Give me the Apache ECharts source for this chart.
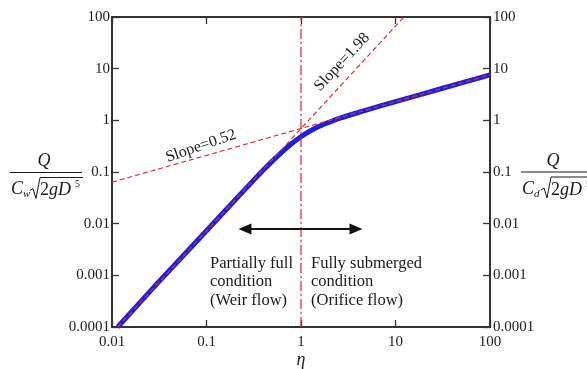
<!DOCTYPE html>
<html>
<head>
<meta charset="utf-8">
<script src="https://cdn.jsdelivr.net/npm/echarts@6/dist/echarts.min.js"></script>
<style>
html,body{margin:0;padding:0;background:#fff;}
#chart{width:587px;height:369px;}
</style>
</head>
<body>
<div id="chart"></div>
<script>
// ---- data ----
const etaTickLabels = ['0.01', '0.1', '1', '10', '100'];
const qTickLabels = ['0.0001', '0.001', '0.01', '0.1', '1', '10', '100'];

const curveEta = [0.0115, 0.03, 0.1, 0.3, 0.4, 0.5, 0.6, 0.7, 0.8, 0.9, 1.0, 1.1, 1.25, 1.5, 1.8, 2.2, 2.6, 3, 5, 10, 20, 50, 100];
const curveQ   = [0.0001, 0.00069, 0.0073, 0.063, 0.109, 0.164, 0.225, 0.290, 0.356, 0.420, 0.482, 0.540, 0.621, 0.740, 0.859, 0.99, 1.10, 1.20, 1.60, 2.30, 3.30, 5.3, 7.6];

const slope052Eta = [0.01, 100];
const slope052Q   = [0.0635, 7.6];
const slope198Eta = [0.0115, 12.3];
const slope198Q   = [0.0001, 100];

const dividerEta = [1, 1];
const dividerQ   = [0.0001, 100];

const arrowEta = [0.255, 3.82];
const arrowQ   = [0.0079, 0.0079];

const annotations = {
  slopeLow: 'Slope=0.52',
  slopeHigh: 'Slope=1.98',
  left: ['Partially full', 'condition', '(Weir flow)'],
  right: ['Fully submerged', 'condition', '(Orifice flow)'],
  xName: 'η'
};

const zip = (a, b) => a.map((v, i) => [v, b[i]]);

const serif = '"Liberation Serif", "DejaVu Serif", serif';
const axisColor = '#333';
const fmt = (labels, minExp) => v => {
  const i = Math.round(Math.log10(v)) - minExp;
  return labels[i] !== undefined ? labels[i] : '';
};

const chart = echarts.init(document.getElementById('chart'), null, {renderer: 'canvas'});

const axisCommon = {
  type: 'log',
  logBase: 10,
  axisLine: {show: true, lineStyle: {color: axisColor, width: 2}},
  axisTick: {show: true, inside: true, length: 7, lineStyle: {color: axisColor, width: 1.3}},
  minorTick: {show: false},
  splitLine: {show: false},
};

const labelStyle = {fontFamily: serif, fontSize: 15, color: '#222'};

const option = {
  animation: false,
  backgroundColor: '#fff',
  grid: {left: 112, right: 97, top: 17, bottom: 42, containLabel: false, outerBoundsMode: 'none'},
  xAxis: [
    Object.assign({}, axisCommon, {
      position: 'bottom', min: 0.01, max: 100, splitNumber: 4,
      axisLabel: Object.assign({}, labelStyle, {margin: 8, formatter: fmt(etaTickLabels, -2)}),
      name: annotations.xName, nameLocation: 'middle', nameGap: 24, nameMoveOverlap: false,
      nameTextStyle: {fontFamily: serif, fontSize: 18, fontStyle: 'italic', color: '#222'}
    }),
    Object.assign({}, axisCommon, {
      position: 'top', min: 0.01, max: 100, splitNumber: 4,
      axisLabel: {show: false}
    })
  ],
  yAxis: [
    Object.assign({}, axisCommon, {
      position: 'left', min: 0.0001, max: 100, splitNumber: 6,
      axisLabel: Object.assign({}, labelStyle, {margin: 2, formatter: fmt(qTickLabels, -4)})
    }),
    Object.assign({}, axisCommon, {
      position: 'right', min: 0.0001, max: 100, splitNumber: 6,
      axisLabel: Object.assign({}, labelStyle, {margin: 3, formatter: fmt(qTickLabels, -4)})
    })
  ],
  series: [
    {
      type: 'line', name: 'curve', data: zip(curveEta, curveQ), smooth: 0.2,
      symbol: 'none', lineStyle: {color: '#1e1ede', width: 5}, z: 3
    },
    {
      type: 'line', name: 'slope052', data: zip(slope052Eta, slope052Q),
      symbol: 'none', lineStyle: {color: '#d8333b', width: 1.2, type: [5, 3]}, z: 4
    },
    {
      type: 'line', name: 'slope198', data: zip(slope198Eta, slope198Q),
      symbol: 'none', lineStyle: {color: '#d8333b', width: 1.2, type: [5, 3]}, z: 4
    },
    {
      type: 'line', name: 'divider', data: zip(dividerEta, dividerQ),
      symbol: 'none', lineStyle: {color: '#e0202a', width: 1.2, type: [10, 3, 2, 3]}, z: 4
    },
    {
      type: 'line', name: 'arrowHolder', data: [], symbol: 'none',
      markLine: {
        silent: true, animation: false,
        symbol: ['triangle', 'triangle'], symbolSize: [11, 13],
        label: {show: false},
        lineStyle: {color: '#111', width: 1.8, type: 'solid'},
        itemStyle: {color: '#111'},
        data: [[{coord: [arrowEta[0], arrowQ[0]]}, {coord: [arrowEta[1], arrowQ[1]]}]]
      },
      z: 5
    }
  ],
  graphic: []
};

chart.setOption(option);

// annotations placed from data coordinates
const px = (x, y) => chart.convertToPixel({xAxisIndex: 0, yAxisIndex: 0}, [x, y]);

const g = [];
const txt = (text, x, y, size, opts) => Object.assign({
  type: 'text', x: x, y: y, z: 10,
  style: Object.assign({text: text, font: size + 'px ' + serif, fill: '#1a1a1a', textAlign: 'left', verticalAlign: 'middle'}, (opts && opts.style) || {})
}, (opts && opts.el) || {});

// slope labels
const s1 = px(0.0875, 0.317);
g.push(txt(annotations.slopeLow, s1[0], s1[1], 16, {style: {textAlign: 'center'}, el: {rotation: 19 * Math.PI / 180}}));
const s2 = px(2.72, 13.4);
g.push(txt(annotations.slopeHigh, s2[0], s2[1], 16, {style: {textAlign: 'center'}, el: {rotation: 47 * Math.PI / 180}}));

// flow-regime text
const lp = px(0.109, 0.0017);
annotations.left.forEach((t, i) => g.push(txt(t, lp[0], lp[1] + i * 18.7, 16.5)));
const rp = px(1.276, 0.0017);
annotations.right.forEach((t, i) => g.push(txt(t, rp[0], rp[1] + i * 18.7, 16.5)));

// y-axis labels (fractions)
function fraction(barL, barR, yBar, sub) {
  const it = 'italic 18px ' + serif;
  g.push({type: 'text', x: (barL + Math.min(barR, 587)) / 2 + (sub === 'w' ? -2 : -1), y: yBar - 11, z: 10,
    style: {text: 'Q', font: it, fill: '#1a1a1a', textAlign: 'center', verticalAlign: 'middle'}});
  g.push({type: 'line', z: 10, shape: {x1: barL, y1: yBar, x2: barR, y2: yBar}, style: {stroke: '#1a1a1a', lineWidth: 1.1}});
  const yD = yBar + 17;
  g.push({type: 'text', x: barL + 1, y: yD, z: 10,
    style: {text: 'C', font: it, fill: '#1a1a1a', textAlign: 'left', verticalAlign: 'middle'}});
  g.push({type: 'text', x: barL + 13, y: yD + 5, z: 10,
    style: {text: sub, font: 'italic 11px ' + serif, fill: '#1a1a1a', textAlign: 'left', verticalAlign: 'middle'}});
  const sx = barL + 20;
  g.push({type: 'polyline', z: 10, shape: {points: [[sx, yD + 1], [sx + 3, yD - 1], [sx + 6, yD + 9], [sx + 10, yD - 12], [sx + 53, yD - 12]]},
    style: {stroke: '#1a1a1a', lineWidth: 1, fill: null}});
  g.push({type: 'text', x: sx + 10, y: yD + 1, z: 10,
    style: {rich: {n: {font: '18px ' + serif, fill: '#1a1a1a'}, i: {font: it, fill: '#1a1a1a'}},
      text: '{n|2}{i|gD}', textAlign: 'left', verticalAlign: 'middle'}});
  g.push({type: 'text', x: sx + 45, y: yD - 5, z: 10,
    style: {text: '5', font: '10px ' + serif, fill: '#1a1a1a', textAlign: 'left', verticalAlign: 'middle'}});
}
fraction(10, 82, 172.5, 'w');
fraction(521, 593, 172, 'd');

chart.setOption({graphic: g});
</script>
</body>
</html>
